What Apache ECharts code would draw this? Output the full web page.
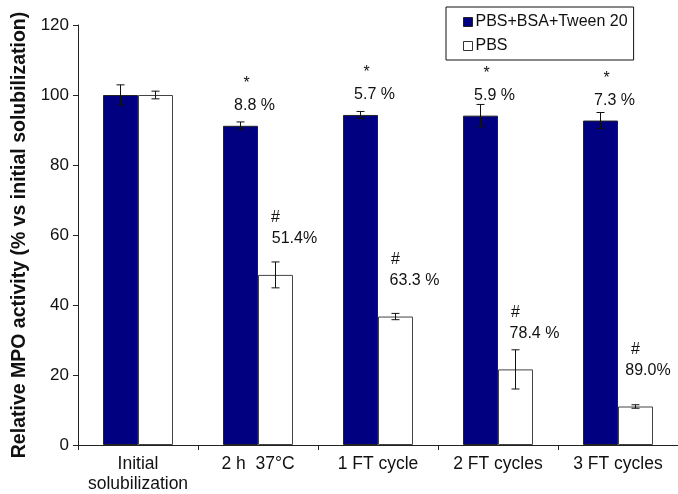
<!DOCTYPE html>
<html>
<head>
<meta charset="utf-8">
<script src="https://cdn.jsdelivr.net/npm/echarts@6/dist/echarts.min.js"></script>
<style>
  html, body { margin: 0; padding: 0; background: #fff; }
  #chart { width: 678px; height: 494px; }
</style>
</head>
<body>
<div id="chart"></div>
<script>
// Relative MPO activity after storage / freeze-thaw, two buffers
const categories = ['Initial\nsolubilization', '2 h  37°C', '1 FT cycle', '2 FT cycles', '3 FT cycles'];

const tweenName = 'PBS+BSA+Tween 20';
const tweenValues = [100, 91.2, 94.3, 94.1, 92.7];
const tweenErrors = [2.9, 1.1, 1.0, 3.2, 2.3];
const tweenLoss = ['', '8.8 %', '5.7 %', '5.9 %', '7.3 %'];

const pbsName = 'PBS';
const pbsValues = [100, 48.6, 36.7, 21.6, 11.0];
const pbsErrors = [1.1, 3.7, 0.9, 5.6, 0.5];
const pbsLoss = ['', '51.4%', '63.3 %', '78.4 %', '89.0%'];

const yTicks = [0, 20, 40, 60, 80, 100, 120];

const FONT = '"Liberation Sans", Arial, Helvetica, sans-serif';
const BAR_W = 35;
const NAVY = '#000080';

const chart = echarts.init(document.getElementById('chart'), null, { renderer: 'canvas' });

// vertical error bar with caps, shifted onto the left (-1) or right (+1) bar of the pair
function errorBars(side, errors) {
  return function (params, api) {
    const i = api.value(0);
    const v = api.value(1);
    const e = errors[params.dataIndex];
    const hi = api.coord([i, v + e]);
    const lo = api.coord([i, v - e]);
    const cx = hi[0] + side * BAR_W / 2;
    const cap = 4;
    const style = { stroke: '#111', lineWidth: 1 };
    return {
      type: 'group',
      children: [
        { type: 'line', shape: { x1: cx, y1: hi[1], x2: cx, y2: lo[1] }, style },
        { type: 'line', shape: { x1: cx - cap, y1: hi[1], x2: cx + cap, y2: hi[1] }, style },
        { type: 'line', shape: { x1: cx - cap, y1: lo[1], x2: cx + cap, y2: lo[1] }, style }
      ]
    };
  };
}

// significance mark and loss percentage written above each bar
function notes(side, mark, texts, markGap, textGap, markDx, textDx) {
  return function (params, api) {
    const idx = params.dataIndex;
    if (!texts[idx]) return null;
    const top = api.coord([api.value(0), api.value(1)]);
    const cx = top[0] + side * BAR_W / 2;
    const tx = Math.min(cx + textDx, api.getWidth() - 30);
    const mx = Math.min(cx + markDx, api.getWidth() - 30);
    return {
      type: 'group',
      children: [
        { type: 'text', style: { x: mx, y: top[1] - markGap, text: mark, fill: '#111',
            font: '16px ' + FONT, align: 'center', verticalAlign: 'middle' } },
        { type: 'text', style: { x: tx, y: top[1] - textGap, text: texts[idx], fill: '#111',
            font: '16px ' + FONT, align: 'center', verticalAlign: 'middle' } }
      ]
    };
  };
}

const option = {
  backgroundColor: '#fff',
  animation: false,
  textStyle: { fontFamily: FONT },
  grid: { left: 78, top: 25, width: 603, height: 420, containLabel: false },
  legend: {
    orient: 'vertical',
    left: 446,
    top: 7,
    padding: [7, 6, 6, 17],
    itemGap: 8,
    itemWidth: 9,
    itemHeight: 9,
    borderColor: '#111',
    borderWidth: 1,
    backgroundColor: '#fff',
    textStyle: { fontSize: 16, color: '#111', fontFamily: FONT, padding: [0, 0, 0, -2] },
    data: [
      { name: tweenName, icon: 'rect', itemStyle: { color: NAVY, borderColor: '#222', borderWidth: 1 } },
      { name: pbsName, icon: 'rect', itemStyle: { color: '#fff', borderColor: '#333', borderWidth: 1 } }
    ]
  },
  xAxis: {
    type: 'category',
    data: categories,
    boundaryGap: true,
    axisLine: { lineStyle: { color: '#222', width: 1 } },
    axisTick: { show: true, length: 5, lineStyle: { color: '#222' } },
    axisLabel: { color: '#111', fontSize: 17.5, fontFamily: FONT, margin: 9, lineHeight: 20, interval: 0 }
  },
  yAxis: {
    type: 'value',
    min: yTicks[0],
    max: yTicks[yTicks.length - 1],
    interval: yTicks[1] - yTicks[0],
    name: 'Relative MPO activity (% vs initial solubilization)',
    nameLocation: 'middle',
    nameGap: 41,
    nameTextStyle: { fontSize: 19.5, fontWeight: 'bold', color: '#111', fontFamily: FONT },
    splitLine: { show: false },
    axisLine: { show: true, lineStyle: { color: '#222', width: 1 } },
    axisTick: { show: true, length: 5, lineStyle: { color: '#222' } },
    axisLabel: { color: '#111', fontSize: 17, fontFamily: FONT, margin: 9 }
  },
  series: [
    {
      name: tweenName,
      type: 'bar',
      data: tweenValues,
      barWidth: BAR_W,
      barGap: '0%',
      itemStyle: { color: NAVY, borderColor: '#222', borderWidth: 1 }
    },
    {
      name: pbsName,
      type: 'bar',
      data: pbsValues,
      barWidth: BAR_W,
      barGap: '0%',
      itemStyle: { color: '#fff', borderColor: '#444', borderWidth: 1 }
    },
    {
      type: 'custom',
      renderItem: errorBars(-1, tweenErrors),
      data: tweenValues.map((v, i) => [i, v]),
      z: 5,
      silent: true
    },
    {
      type: 'custom',
      renderItem: errorBars(1, pbsErrors),
      data: pbsValues.map((v, i) => [i, v]),
      z: 5,
      silent: true
    },
    {
      type: 'custom',
      renderItem: notes(-1, '*', tweenLoss, 42, 20, 6, 14),
      data: tweenValues.map((v, i) => [i, v]),
      z: 6,
      silent: true
    },
    {
      type: 'custom',
      renderItem: notes(1, '#', pbsLoss, 57, 36, 0, 19),
      data: pbsValues.map((v, i) => [i, v]),
      z: 6,
      silent: true
    }
  ]
};

chart.setOption(option);
</script>
</body>
</html>
